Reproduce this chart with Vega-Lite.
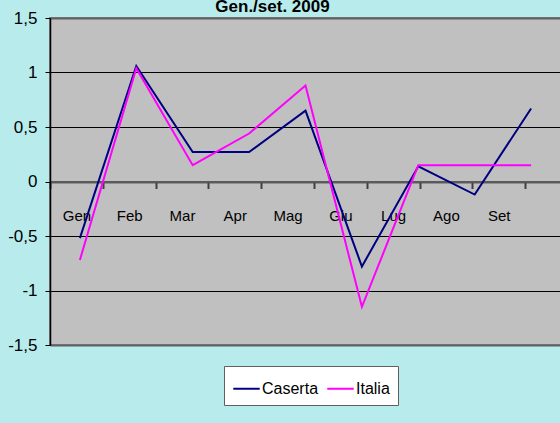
{
  "$schema": "https://vega.github.io/schema/vega-lite/v6.json",
  "width": 511,
  "height": 327,
  "autosize": {"type": "none"},
  "padding": {"left": 50, "top": 18, "right": 0, "bottom": 78},
  "background": "#B8ECEC",
  "title": {
    "text": "Gen./set. 2009",
    "font": "Liberation Sans",
    "fontSize": 17,
    "fontWeight": "bold",
    "color": "black",
    "dx": -33,
    "offset": -20,
    "baseline": "alphabetic",
    "frame": "group"
  },
  "config": {
    "view": {"fill": "#C0C0C0", "stroke": "#808080", "strokeWidth": 2},
    "font": "Liberation Sans"
  },
  "data": {
    "values": [
      {"month": "Gen", "series": "Caserta", "value": -0.52},
      {"month": "Feb", "series": "Caserta", "value": 1.06},
      {"month": "Mar", "series": "Caserta", "value": 0.27},
      {"month": "Apr", "series": "Caserta", "value": 0.27},
      {"month": "Mag", "series": "Caserta", "value": 0.65},
      {"month": "Giu", "series": "Caserta", "value": -0.78},
      {"month": "Lug", "series": "Caserta", "value": 0.14},
      {"month": "Ago", "series": "Caserta", "value": -0.12},
      {"month": "Set", "series": "Caserta", "value": 0.67},
      {"month": "Gen", "series": "Italia", "value": -0.72},
      {"month": "Feb", "series": "Italia", "value": 1.04},
      {"month": "Mar", "series": "Italia", "value": 0.15},
      {"month": "Apr", "series": "Italia", "value": 0.44},
      {"month": "Mag", "series": "Italia", "value": 0.88},
      {"month": "Giu", "series": "Italia", "value": -1.15},
      {"month": "Lug", "series": "Italia", "value": 0.15},
      {"month": "Ago", "series": "Italia", "value": 0.15},
      {"month": "Set", "series": "Italia", "value": 0.15}
    ]
  },
  "layer": [
    {
      "mark": {"type": "point", "opacity": 0},
      "encoding": {
        "x": {
          "field": "month",
          "type": "ordinal",
          "sort": ["Gen", "Feb", "Mar", "Apr", "Mag", "Giu", "Lug", "Ago", "Set"],
          "scale": {"type": "band", "paddingInner": 0, "paddingOuter": 0.34, "align": 0},
          "axis": {
            "title": null,
            "orient": "bottom",
            "offset": -163.5,
            "labelAngle": 0,
            "tickBand": "extent",
            "tickSize": 7,
            "tickColor": "#404040",
            "tickWidth": 2,
            "domainColor": "#5A5A5A",
            "domainWidth": 2,
            "labelPadding": 20,
            "labelFontSize": 15,
            "labelColor": "black",
            "labelFont": "Liberation Sans"
          }
        },
        "y": {"field": "value", "type": "quantitative"}
      }
    },
    {
      "mark": {"type": "line", "strokeWidth": 2},
      "encoding": {
        "x": {
          "field": "month",
          "type": "ordinal",
          "sort": ["Gen", "Feb", "Mar", "Apr", "Mag", "Giu", "Lug", "Ago", "Set"],
          "scale": {"type": "point", "padding": 0.53},
          "axis": null
        },
        "y": {
          "field": "value",
          "type": "quantitative",
          "scale": {"domain": [-1.5, 1.5], "nice": false, "zero": false},
          "axis": {
            "title": null,
            "values": [-1.5, -1, -0.5, 0, 0.5, 1, 1.5],
            "labelExpr": "replace(toString(datum.value), '.', ',')",
            "labelFontSize": 17,
            "labelColor": "black",
            "labelFont": "Liberation Sans",
            "labelPadding": 8,
            "tickSize": 5,
            "tickColor": "black",
            "domainColor": "black",
            "domainWidth": 1.5,
            "grid": true,
            "gridColor": {"condition": {"test": "datum.value === 0 || abs(datum.value) === 1.5", "value": "#606060"}, "value": "black"},
            "gridWidth": {"condition": {"test": "datum.value === 0 || abs(datum.value) === 1.5", "value": 2}, "value": 1.2},
            "gridOpacity": 1
          }
        },
        "color": {
          "field": "series",
          "type": "nominal",
          "scale": {"domain": ["Caserta", "Italia"], "range": ["#000080", "#FF00FF"]},
          "legend": {
            "title": null,
            "orient": "none",
            "legendX": 174,
            "legendY": 348,
            "direction": "horizontal",
            "fillColor": "white",
            "strokeColor": "#606060",
            "padding": 8,
            "symbolType": "stroke",
            "symbolSize": 700,
            "symbolStrokeWidth": 2,
            "labelFontSize": 16,
            "labelFont": "Liberation Sans",
            "labelColor": "black",
            "labelOffset": 1,
            "columnPadding": 4
          }
        }
      }
    }
  ],
  "resolve": {"scale": {"x": "independent"}}
}
